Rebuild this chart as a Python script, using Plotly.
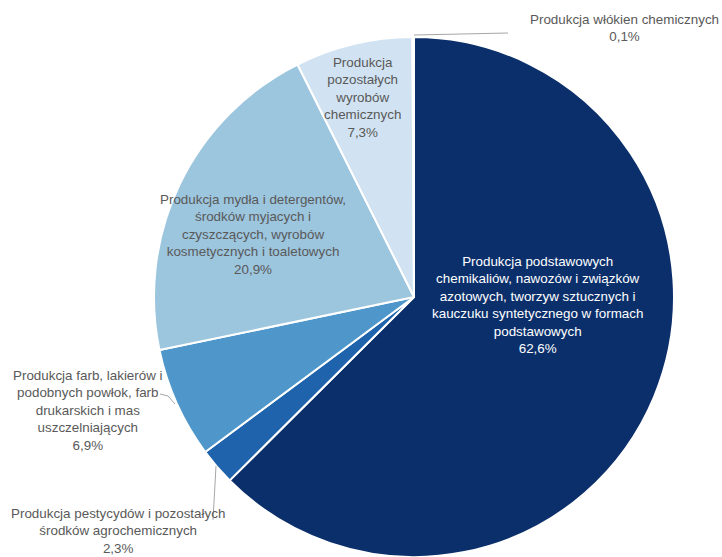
import plotly.graph_objects as go

labels = [
    "Produkcja podstawowych chemikaliów, nawozów i związków azotowych, tworzyw sztucznych i kauczuku syntetycznego w formach podstawowych",
    "Produkcja pestycydów i pozostałych środków agrochemicznych",
    "Produkcja farb, lakierów i podobnych powłok, farb drukarskich i mas uszczelniających",
    "Produkcja mydła i detergentów, środków myjacych i czyszczących, wyrobów kosmetycznych i toaletowych",
    "Produkcja pozostałych wyrobów chemicznych",
    "Produkcja włókien chemicznych",
]
values = [62.6, 2.3, 6.9, 20.9, 7.3, 0.1]
value_text = ["62,6%", "2,3%", "6,9%", "20,9%", "7,3%", "0,1%"]
colors = ["#0b2f6b", "#1f63ac", "#4f97ca", "#9cc5de", "#d1e3f2", "#e6eef7"]

# wrapped label lines as displayed
wrapped = [
    "Produkcja podstawowych<br>chemikaliów, nawozów i związków<br>azotowych, tworzyw sztucznych i<br>kauczuku syntetycznego w formach<br>podstawowych",
    "Produkcja pestycydów i pozostałych<br>środków agrochemicznych",
    "Produkcja farb, lakierów i<br>podobnych powłok, farb<br>drukarskich i mas<br>uszczelniających",
    "Produkcja mydła i detergentów,<br>środków myjacych i<br>czyszczących, wyrobów<br>kosmetycznych i toaletowych",
    "Produkcja<br>pozostałych<br>wyrobów<br>chemicznych",
    "Produkcja włókien chemicznych",
]

W, H = 722, 557
def px(x): return x / W
def py(y): return 1 - y / H

cx, cy, r = 414, 297, 260

fig = go.Figure(go.Pie(
    labels=labels, values=values, sort=False, direction="clockwise", rotation=0,
    marker=dict(colors=colors, line=dict(color="white", width=2)),
    textinfo="none", hoverinfo="label+percent", showlegend=False,
    domain=dict(x=[px(cx - r), px(cx + r)], y=[max(0, py(cy + r)), py(cy - r)]),
))

FONT = "Liberation Sans"
label_pos = [  # (x center, y center), text color
    (537, 305, "white"),
    (118, 531, "#595959"),
    (88, 410, "#595959"),
    (253, 234, "#595959"),
    (362, 97, "#595959"),
    (624, 28, "#595959"),
]
for txt, val, (x, y, col) in zip(wrapped, value_text, label_pos):
    fig.add_annotation(
        x=px(x), y=py(y), xref="paper", yref="paper",
        text=txt + "<br>" + val, showarrow=False, align="center",
        xanchor="center", yanchor="middle",
        font=dict(family=FONT, size=13.4, color=col),
    )

# leader lines
leaders = [
    [(414, 35), (508, 33)],
    [(216, 466), (213, 520)],
    [(175, 404), (168, 396), (160, 394)],
]
for pts in leaders:
    path = "M " + " L ".join(f"{px(x)},{py(y)}" for x, y in pts)
    fig.add_shape(type="path", xref="paper", yref="paper", path=path,
                  line=dict(color="#a6a6a6", width=1))

fig.update_layout(
    width=W, height=H, margin=dict(l=0, r=0, t=0, b=0),
    paper_bgcolor="white", plot_bgcolor="white",
)
fig.write_html("out.html", config={"displayModeBar": False},
               post_script="document.body.style.margin='0';document.body.style.overflow='hidden';")
